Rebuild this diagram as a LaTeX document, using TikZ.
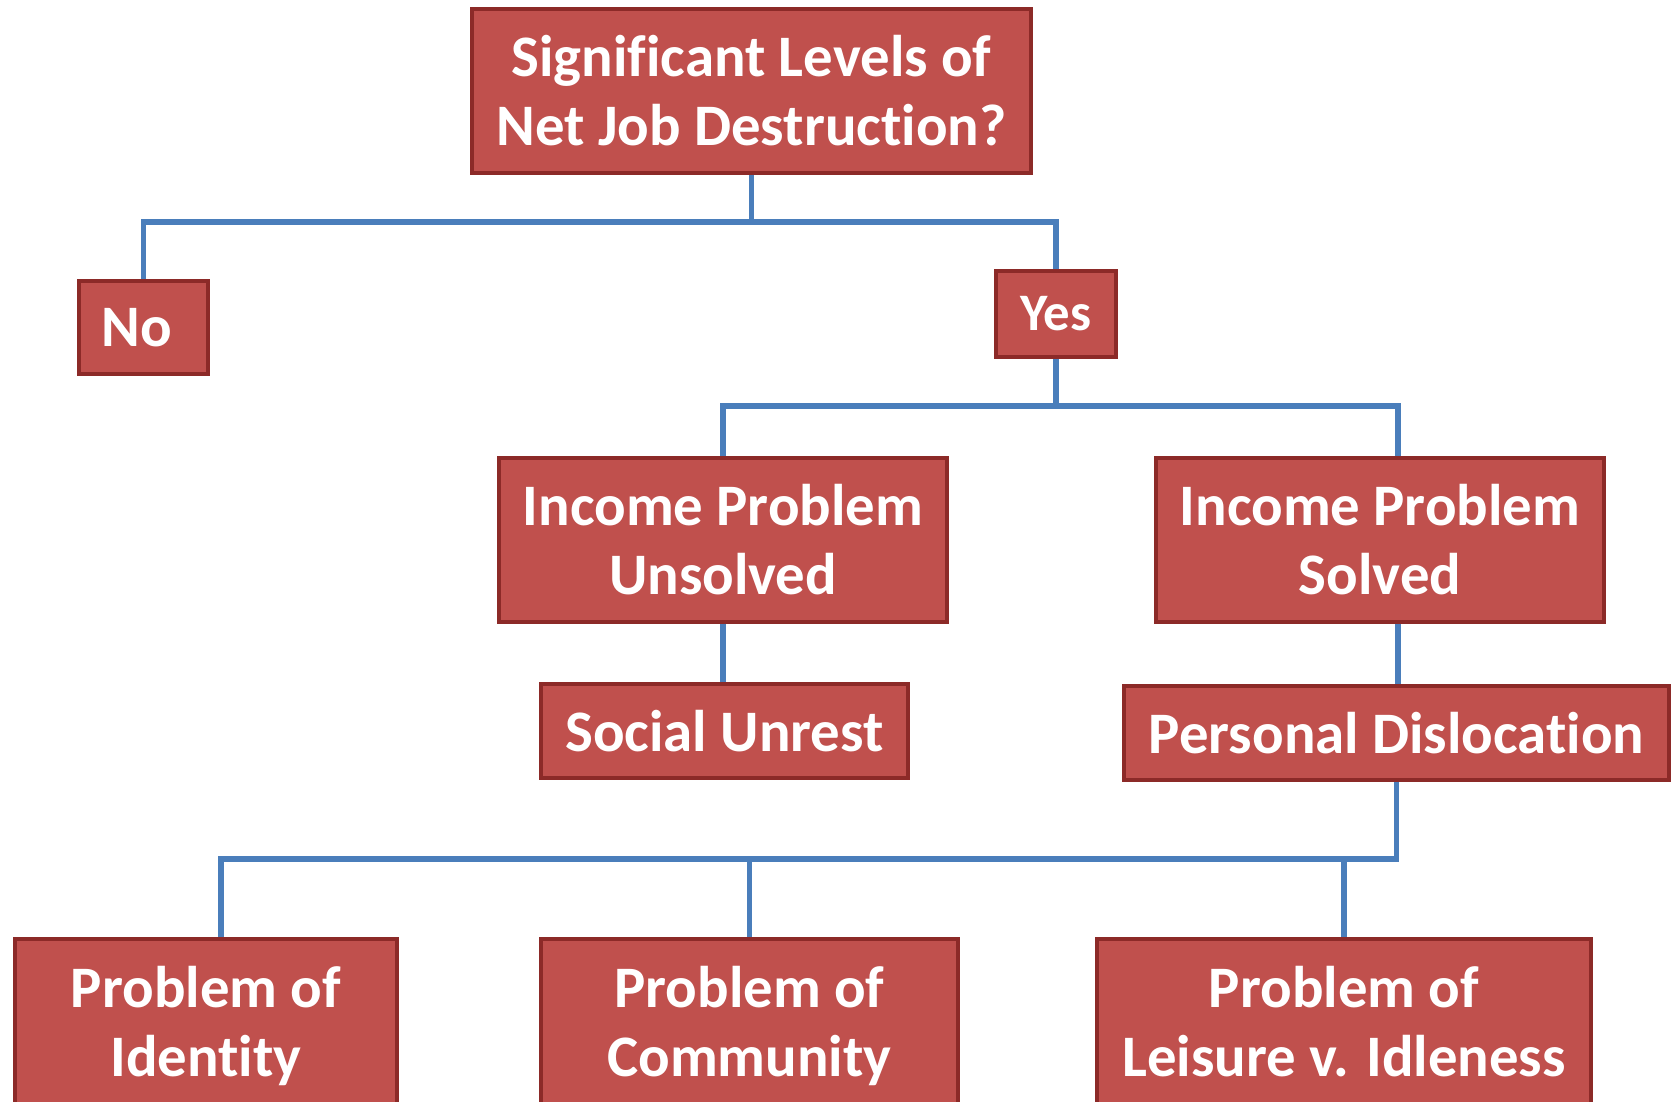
\documentclass[tikz,border=0pt]{standalone}
\usepackage{fontspec}
\setmainfont{Carlito}[Ligatures=NoCommon]
\usetikzlibrary{calc}
\definecolor{boxfill}{HTML}{C0504D}
\definecolor{boxline}{HTML}{8C2A28}
\definecolor{wirecol}{HTML}{4A7EBB}
\begin{document}
\begin{tikzpicture}[x=0.03cm,y=-0.03cm,
  box/.style={draw=boxline, fill=boxfill, line width=3.4pt, text=white,
    font=\fontsize{50.2}{59}\selectfont\bfseries, align=center, inner sep=0pt},
  tall/.style={minimum height=4.92cm},
  flat/.style={minimum height=2.82cm},
  wire/.style={draw=wirecol, line width=4.3pt}]
\useasboundingbox (0,0) rectangle (1671,1102);
\clip (0,0) rectangle (1671,1102);

% boxes
\node[box, tall, minimum width=16.77cm] (q) at (751.5,91) {Significant Levels of\\Net Job Destruction?};
\node[box, minimum width=3.87cm, minimum height=2.79cm] (no) at (143.5,327.5) {No\hspace*{0.39cm}};
\node[box, minimum width=3.6cm, minimum height=2.58cm,
  font=\fontsize{45}{54}\selectfont\bfseries] (yes) at (1056,314) {Yes};
\node[box, tall, minimum width=13.44cm] (iu) at (723,540) {Income Problem\\Unsolved};
\node[box, tall, minimum width=13.44cm] (is) at (1380,540) {Income Problem\\Solved};
\node[box, flat, minimum width=11.01cm] (su) at (724.5,731) {Social Unrest};
\node[box, flat, minimum width=16.35cm] (pd) at (1396.5,733) {Personal Dislocation};
\node[box, minimum height=5.22cm, minimum width=11.46cm] (id) at (206,1026) {Problem of\\Identity};
\node[box, minimum height=5.22cm, minimum width=12.51cm] (cm) at (749.5,1026) {Problem of\\Community};
\node[box, minimum height=5.22cm, minimum width=14.82cm] (le) at (1344,1026) {Problem of\\Leisure v. Idleness\vphantom{y}};

% bus levels and offset drop points
\coordinate (bus1) at (0,222);
\coordinate (bus2) at (0,406);
\coordinate (bus3) at (0,859);
\coordinate (isx) at ($(is.north)+(18,0)$);
\coordinate (idx) at ($(id.north)+(15,0)$);

% connectors
\draw[wire] (q.south) -- (q.south |- bus1) -| (no.north);
\draw[wire] (q.south |- bus1) -| (yes.north);
\draw[wire] (yes.south) -- (yes.south |- bus2) -| (iu.north);
\draw[wire] (yes.south |- bus2) -| (isx);
\draw[wire] (iu.south) -- (iu.south |- su.north);
\draw[wire] (isx |- is.south) -- (isx |- pd.north);
\draw[wire] (pd.south) -- (pd.south |- bus3) -| (idx);
\draw[wire] (pd.south |- bus3) -| (cm.north);
\draw[wire] (pd.south |- bus3) -| (le.north);
\end{tikzpicture}
\end{document}
